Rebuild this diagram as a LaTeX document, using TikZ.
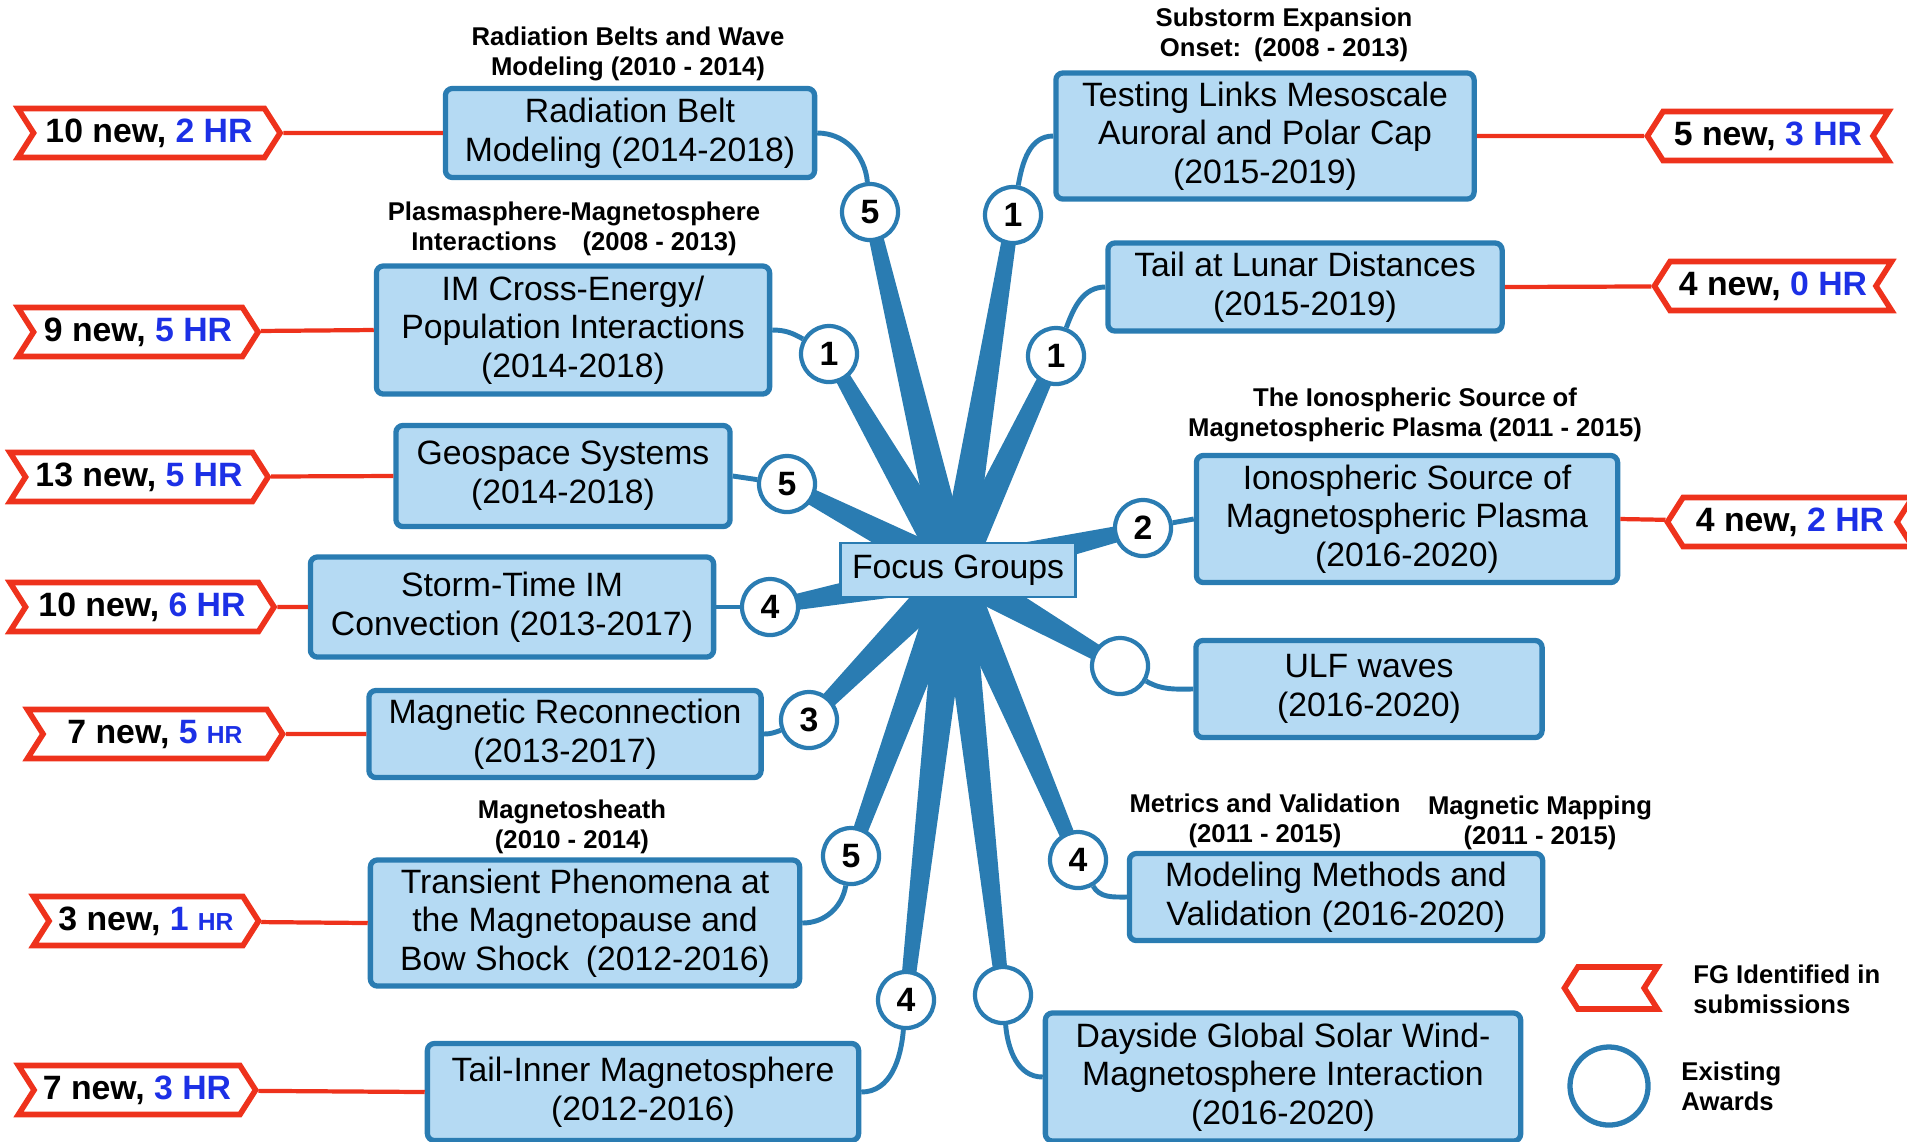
\documentclass[tikz,border=0pt]{standalone}
\usepackage{fontspec}
\setmainfont{Liberation Sans}
\usepackage{tikz}
\usetikzlibrary{shapes,positioning,calc,backgrounds}
\usepackage{xcolor}
\definecolor{fgblue}{RGB}{42, 124, 178}
\definecolor{boxfill}{RGB}{181, 218, 243}
\definecolor{tagred}{RGB}{238, 50, 28}
\definecolor{hrblue}{RGB}{28, 48, 230}

\newcommand{\hrtext}[1]{\textcolor{hrblue}{#1}}
\newcommand{\smallhr}{{\fontsize{7}{8}\selectfont HR}}
\newcommand{\fgspoke}[1]{\fill[fgblue] ($(hub)!0.17cm!90:(#1)$) -- ($(#1)!0.065cm!-90:(hub)$) -- ($(#1)!0.065cm!90:(hub)$) -- ($(hub)!0.17cm!-90:(#1)$) -- cycle;}

\begin{document}
\begin{tikzpicture}[
    x=0.01cm, y=-0.01cm,
    fgbox/.style={rectangle, draw=fgblue, fill=boxfill, line width=1.5pt, rounded corners=2pt, align=center, inner sep=2pt, font=\fontsize{9.6}{11}\selectfont},
    award/.style={circle, draw=fgblue, fill=white, line width=1.2pt, minimum size=0.56cm, inner sep=0pt, font=\bfseries\fontsize{9.6}{11}\selectfont},
    tagL/.style={signal, signal to=east, signal from=west, signal pointer angle=115, draw=tagred, fill=white, line width=1.6pt, minimum height=0.49cm, inner sep=2pt, font=\bfseries\fontsize{9.6}{11}\selectfont},
    tagR/.style={signal, signal to=west, signal from=east, signal pointer angle=115, draw=tagred, fill=white, line width=1.6pt, minimum height=0.49cm, inner sep=2pt, font=\bfseries\fontsize{9.6}{11}\selectfont},
    note/.style={align=center, font=\bfseries\fontsize{7.3}{8.5}\selectfont},
    link/.style={draw=fgblue, line width=1.4pt},
    redline/.style={draw=tagred, line width=1.2pt}
]
    \useasboundingbox (0,0) rectangle (1907,1141);

    % Hub
    \coordinate (hub) at (955,572);
    \node[draw=fgblue, fill=boxfill, line width=0.8pt, minimum width=2.3cm, minimum height=0.48cm, font=\fontsize{9.6}{11}\selectfont] (focus) at (958,570) {Focus Groups};

    % Awards
    \node[award] (a1) at (870,212) {5};
    \node[award] (a2) at (829,354) {1};
    \node[award] (a3) at (787,484) {5};
    \node[award] (a4) at (770,607) {4};
    \node[award] (a5) at (809,720) {3};
    \node[award] (a6) at (851,856) {5};
    \node[award] (a7) at (906,1000) {4};
    \node[award] (a8) at (1013,215) {1};
    \node[award] (a9) at (1056,356) {1};
    \node[award] (a10) at (1143,528) {2};
    \node[award] (a11) at (1120,666) {};
    \node[award] (a12) at (1078,860) {4};
    \node[award] (a13) at (1003,995) {};

    % Spokes
    \begin{pgfonlayer}{background}
        \foreach \i in {1,...,13} {\fgspoke{a\i}}
    \end{pgfonlayer}

    % Left focus groups
    \node[fgbox, minimum width=3.69cm, minimum height=0.89cm] (rb) at (630,133) {Radiation Belt\\Modeling (2014-2018)};
    \node[fgbox, minimum width=3.93cm, minimum height=1.28cm] (im) at (573,330) {IM Cross-Energy/\\Population Interactions\\(2014-2018)};
    \node[fgbox, minimum width=3.34cm, minimum height=1.01cm] (geo) at (563,476) {Geospace Systems\\(2014-2018)};
    \node[fgbox, minimum width=4.03cm, minimum height=1.0cm] (storm) at (512,607) {Storm-Time IM\\Convection (2013-2017)};
    \node[fgbox, minimum width=3.92cm, minimum height=0.87cm] (mr) at (565,734) {Magnetic Reconnection\\(2013-2017)};
    \node[fgbox, minimum width=4.29cm, minimum height=1.26cm] (tr) at (585,923) {Transient Phenomena at\\the Magnetopause and\\Bow Shock\enspace(2012-2016)};
    \node[fgbox, minimum width=4.31cm, minimum height=0.97cm] (ti) at (643,1092) {Tail-Inner Magnetosphere\\(2012-2016)};

    % Right focus groups
    \node[fgbox, minimum width=4.18cm, minimum height=1.26cm] (tl) at (1265,136) {Testing Links Mesoscale\\Auroral and Polar Cap\\(2015-2019)};
    \node[fgbox, minimum width=3.94cm, minimum height=0.88cm] (lunar) at (1305,287) {Tail at Lunar Distances\\(2015-2019)};
    \node[fgbox, minimum width=4.21cm, minimum height=1.27cm] (iono) at (1407,519) {Ionospheric Source of\\Magnetospheric Plasma\\(2016-2020)};
    \node[fgbox, minimum width=3.46cm, minimum height=0.97cm] (ulf) at (1369,689) {ULF waves\\(2016-2020)};
    \node[fgbox, minimum width=4.13cm, minimum height=0.87cm] (mm) at (1336,897) {Modeling Methods and\\Validation (2016-2020)};
    \node[fgbox, minimum width=4.75cm, minimum height=1.28cm] (ds) at (1283,1077) {Dayside Global Solar Wind-\\Magnetosphere Interaction\\(2016-2020)};

    % Earlier groups
    \node[note] (n1) at (628,54) {Radiation Belts and Wave\\Modeling (2010 - 2014)};
    \node[note] (n2) at (574,229) {Plasmasphere-Magnetosphere\\Interactions\quad(2008 - 2013)};
    \node[note] (n3) at (1284,35) {Substorm Expansion\\Onset:\enspace(2008 - 2013)};
    \node[note] (n4) at (1415,415) {The Ionospheric Source of\\Magnetospheric Plasma (2011 - 2015)};
    \node[note] (n5) at (572,827) {Magnetosheath\\(2010 - 2014)};
    \node[note] (n6) at (1265,821) {Metrics and Validation\\(2011 - 2015)};
    \node[note] (n7) at (1540,823) {Magnetic Mapping\\(2011 - 2015)};

    % Links to awards
    \draw[link] (rb.east) to[out=0,in=95] (a1);
    \draw[link] (im.east) to[out=0,in=150] (a2);
    \draw[link] (geo.east) -- (a3);
    \draw[link] (storm.east) -- (a4);
    \draw[link] (mr.east) to[out=0,in=200] (a5);
    \draw[link] (tr.east) to[out=0,in=-100] (a6);
    \draw[link] (ti.east) to[out=0,in=-95] (a7);
    \draw[link] (tl.west) to[out=180,in=80] (a8);
    \draw[link] (lunar.west) to[out=180,in=70] (a9);
    \draw[link] (iono.west) -- (a10);
    \draw[link] (ulf.west) to[out=180,in=-30] (a11);
    \draw[link] (mm.west) to[out=180,in=-60] (a12);
    \draw[link] (ds.west) to[out=180,in=-85] (a13);

    % Submissions
    \node[tagL, minimum width=2.62cm] (t1) at (149,133) {10 new, \hrtext{2 HR}};
    \node[tagL, minimum width=2.40cm] (t2) at (138,332) {9 new, \hrtext{5 HR}};
    \node[tagL, minimum width=2.58cm] (t3) at (139,477) {13 new, \hrtext{5 HR}};
    \node[tagL, minimum width=2.64cm] (t4) at (142,607) {10 new, \hrtext{6 HR}};
    \node[tagL, minimum width=2.55cm] (t5) at (155,734) {7 new, \hrtext{5 \smallhr}};
    \node[tagL, minimum width=2.25cm] (t6) at (146,921) {3 new, \hrtext{1 \smallhr}};
    \node[tagL, minimum width=2.37cm] (t7) at (137,1090) {7 new, \hrtext{3 HR}};
    \node[tagR, minimum width=2.41cm] (t8) at (1768,136) {5 new, \hrtext{3 HR}};
    \node[tagR, minimum width=2.37cm] (t9) at (1773,286) {4 new, \hrtext{0 HR}};
    \node[tagR, minimum width=2.45cm] (t10) at (1790,522) {4 new, \hrtext{2 HR}};

    \draw[redline] (rb.west) -- (t1);
    \draw[redline] (im.west) -- (t2);
    \draw[redline] (geo.west) -- (t3);
    \draw[redline] (storm.west) -- (t4);
    \draw[redline] (mr.west) -- (t5);
    \draw[redline] (tr.west) -- (t6);
    \draw[redline] (ti.west) -- (t7);
    \draw[redline] (tl.east) -- (t8);
    \draw[redline] (lunar.east) -- (t9);
    \draw[redline] (iono.east) -- (t10);

    % Legend
    \node[tagR, minimum width=0.93cm, minimum height=0.42cm] (legtag) at (1611,988) {};
    \node[note, align=left, anchor=west] (legtagtxt) at (1681,989) {FG Identified in\\submissions};
    \node[award, minimum size=0.78cm, line width=1.5pt] (legaward) at (1609,1086) {};
    \node[note, align=left, anchor=west] (legawardtxt) at (1669,1086) {Existing\\Awards};
\end{tikzpicture}
\end{document}
